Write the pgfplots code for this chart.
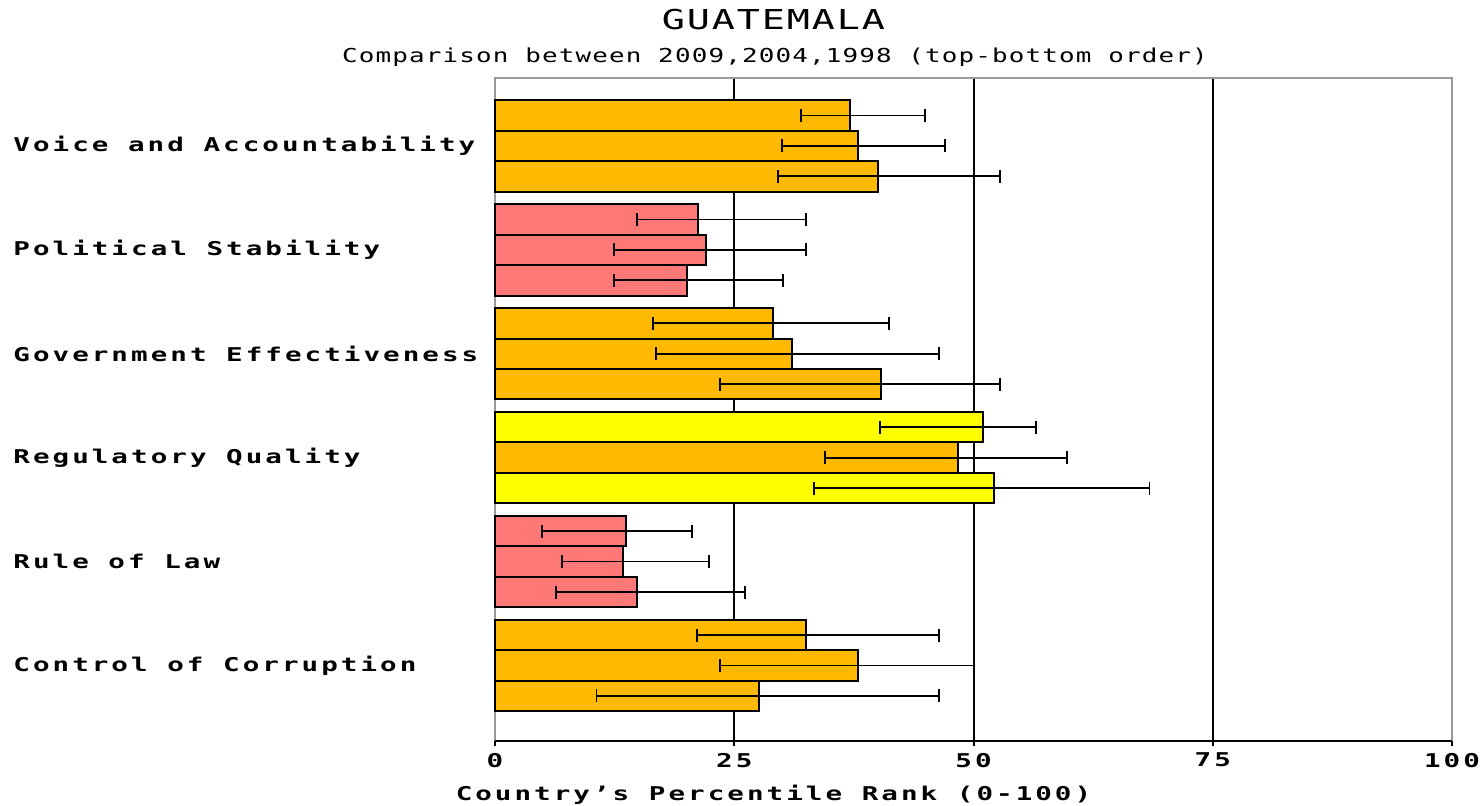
\documentclass[border=0pt]{standalone}
\usepackage{pgfplots}
\pgfplotsset{compat=1.18}
\usepackage{fontspec}
\setmainfont{DejaVu Sans Mono}
\newfontfamily\labfont[FakeStretch=1.45,LetterSpace=16]{DejaVu Sans Mono}
\newfontfamily\titlefont[FakeStretch=1.4,LetterSpace=7]{DejaVu Sans Mono}
\newfontfamily\subfont[FakeStretch=1.35,LetterSpace=6]{DejaVu Sans Mono}
\definecolor{cOr}{RGB}{255,185,0}
\definecolor{cRd}{RGB}{255,120,120}
\definecolor{cYl}{RGB}{255,255,0}
\newcommand\lab{\labfont\bfseries\fontsize{9.5bp}{11bp}\selectfont}
\begin{document}
\begin{tikzpicture}
\begin{axis}[
  at={(247.5bp,32.5bp)}, anchor=south west,
  scale only axis, width=478.5bp, height=331.5bp,
  xmin=0, xmax=100, ymin=0.273, ymax=6.654,
  xtick={25,50,75},
  extra x ticks={0,100},
  extra x tick style={grid=none},
  xtick pos=bottom,
  tick align=outside,
  major tick length=2.5bp,
  xtick style={black, line width=1bp},
  xmajorgrids,
  grid style={black, line width=1bp},
  ytick={1,2,3,4,5,6},
  yticklabels={Control of Corruption, Rule of Law, Regulatory Quality, Government Effectiveness, Political Stability, Voice and Accountability},
  ytick style={draw=none},
  yticklabel style={anchor=west, inner sep=0pt, xshift=-238.5bp, font=\lab},
  xticklabel style={font=\lab},
  /pgf/number format/assume math mode=true,
  axis line style={draw=black!40, line width=1bp},
  xbar, bar width=0.293, bar shift=0pt,
  clip=false,
]
\addplot[fill=cOr, draw=black, line width=1bp,
  error bars/.cd, x dir=both, x explicit,
  error bar style={black, line width=0.9bp},
  error mark options={rotate=90, black, line width=0.9bp, mark size=3.25bp}]
  table[x=x, y=y, x error plus=ep, x error minus=em] {
x     y      ep    em
37.1  6.293  7.8   5.1
37.9  6.000  9.1   7.9
40.0  5.707  12.8  10.4
29.0  4.293  12.2  12.5
31.0  4.000  15.4  14.2
40.3  3.707  12.5  16.8
48.4  3.000  11.4  13.9
32.5  1.293  13.9  11.4
37.9  1.000  12.1  14.4
27.6  0.707  18.8  17.0
};
\addplot[fill=cRd, draw=black, line width=1bp,
  error bars/.cd, x dir=both, x explicit,
  error bar style={black, line width=0.9bp},
  error mark options={rotate=90, black, line width=0.9bp, mark size=3.25bp}]
  table[x=x, y=y, x error plus=ep, x error minus=em] {
x     y      ep    em
21.2  5.293  11.3  6.4
22.0  5.000  10.5  9.6
20.1  4.707  10.0  7.7
13.7  2.293  6.9   8.8
13.4  2.000  9.0   6.4
14.8  1.707  11.3  8.4
};
\addplot[fill=cYl, draw=black, line width=1bp,
  error bars/.cd, x dir=both, x explicit,
  error bar style={black, line width=0.9bp},
  error mark options={rotate=90, black, line width=0.9bp, mark size=3.25bp}]
  table[x=x, y=y, x error plus=ep, x error minus=em] {
x     y      ep    em
51.0  3.293  5.5   10.8
52.1  2.707  16.3  18.8
};
\draw[black, line width=1bp] (rel axis cs:0,0) -- (rel axis cs:1,0);
\end{axis}
\node[font=\titlefont\fontsize{13.7bp}{15bp}\selectfont] at (386.75bp,393bp) {GUATEMALA};
\node[font=\subfont\fontsize{9.6bp}{11bp}\selectfont] at (387.5bp,374.5bp) {Comparison between 2009,2004,1998 (top-bottom order)};
\node[font=\lab] at (386.75bp,5.5bp) {Country’s Percentile Rank (0-100)};
\pgfresetboundingbox
\useasboundingbox (0,0) rectangle (742bp,403bp);
\end{tikzpicture}
\end{document}
